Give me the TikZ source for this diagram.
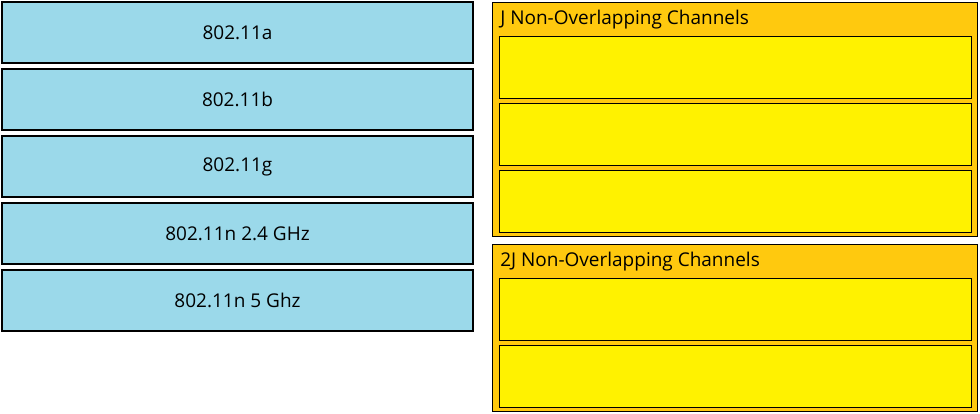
\documentclass[tikz,border=0pt]{standalone}
\usepackage{fontspec}
\setmainfont{Open Sans}
\usepackage{xcolor}
\usepackage{tikz}
\usetikzlibrary{positioning}

\definecolor{stdblue}{RGB}{155,217,234}
\definecolor{slotyellow}{RGB}{255,242,0}
\definecolor{groupgold}{RGB}{255,201,14}

\tikzset{
  stdbox/.style={rectangle, draw=black, line width=0.9pt, fill=stdblue, inner sep=0pt,
    minimum width=11.775cm, minimum height=1.525cm, font=\fontsize{13.5}{16}\selectfont},
  groupbox/.style={rectangle, draw=black, line width=0.9pt, fill=groupgold, inner sep=0pt,
    anchor=north west, minimum width=12.125cm},
  slotbox/.style={rectangle, draw=black, line width=0.8pt, fill=slotyellow, inner sep=0pt,
    anchor=north west, minimum width=11.8cm, minimum height=1.55cm},
  grouptitle/.style={anchor=west, inner sep=0pt, font=\fontsize{13.5}{16}\selectfont}
}

\begin{document}
\begin{tikzpicture}[x=0.025cm, y=-0.025cm]
\useasboundingbox[fill=white] (0,0) rectangle (980,414);
% standards (left column)
\node[stdbox] (std0) at (237.5, 32.5) {802.11a};
\node[stdbox] (std1) at (237.5, 99.5) {802.11b};
\node[stdbox] (std2) at (237.5, 166.5) {802.11g};
\node[stdbox] (std3) at (237.5, 233.5) {802.11n 2.4 GHz};
\node[stdbox] (std4) at (237.5, 300.5) {802.11n 5 Ghz};
% channel groups (right column)
\node[groupbox, minimum height=5.85cm] (group0) at (492, 2) {};
\node[grouptitle] (title0) at (500, 19.5) {J Non-Overlapping Channels};
\node[slotbox] (slot0) at (499, 36) {};
\node[slotbox] (slot1) at (499, 103) {};
\node[slotbox] (slot2) at (499, 170) {};
\node[groupbox, minimum height=4.175cm] (group1) at (492, 244) {};
\node[grouptitle] (title1) at (500, 261.5) {2J Non-Overlapping Channels};
\node[slotbox] (slot3) at (499, 278) {};
\node[slotbox] (slot4) at (499, 345) {};
\end{tikzpicture}
\end{document}
